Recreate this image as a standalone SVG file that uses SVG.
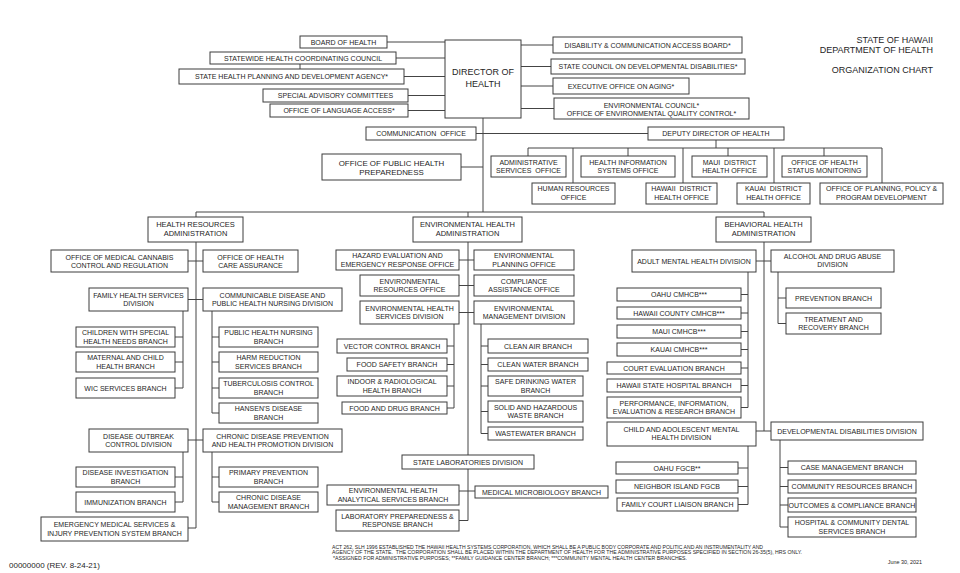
<svg xmlns="http://www.w3.org/2000/svg" width="960" height="573" viewBox="0 0 960 573">
<style>
.b{fill:#fff;stroke:#3c3c3c;stroke-width:1}
.t{font-family:"Liberation Sans",Arial,sans-serif;font-size:7px;fill:#1e1e1e;text-anchor:middle}
.h{font-size:7.5px}
.d{font-size:9px}
.p{font-size:7.9px}
.c{fill:none;stroke:#444;stroke-width:1}
.r{font-family:"Liberation Sans",Arial,sans-serif;font-size:9px;fill:#1e1e1e;text-anchor:end}
.f{font-family:"Liberation Sans",Arial,sans-serif;font-size:4.6px;fill:#1e1e1e}
</style>
<rect width="960" height="573" fill="#fff"/>
<g id="connectors" class="c">
<path d="M387 42H445 M396 58H445 M404 76.5H445 M408 95.5H445 M408 110.5H445 M300 64V69 M521 45H553 M521 66.5H551 M521 86H553 M521 108.5H554 M483 118V212 M476 133.5H648 M461 167H483 M716 140V148 M528 148H882 M528 148V156 M573 148V183 M628 148V156 M683 148V183 M728 148V156 M774 148V183 M824 148V156 M882 148V183 M196 212H764 M196 212V528 M468 212V455 M764 212V431"/>
<path d="M188 261H203 M188 299.5H203 M183 311V388 M175 337H183 M175 362H183 M175 388H183 M212 311V413 M212 337H219 M212 362H219 M212 388H219 M212 413H219 M188 440H203 M183 452V502 M175 477H183 M175 502H183 M212 452V502 M212 477H219 M212 502H219 M188 528H196"/>
<path d="M459 260H474 M459 285.5H474 M459 312.5H474 M454 324V408 M447 346H454 M447 364.5H454 M447 386H454 M447 408H454 M481 324V433.5 M481 346H488 M481 364.5H488 M481 386H488 M481 411.5H488 M481 433.5H488 M468 469V520.5 M459 491H475 M459 520.5H468"/>
<path d="M756 261H771 M748 272V407.5 M741 294.5H748 M741 313H748 M741 331.5H748 M741 349.5H748 M741 368H748 M741 385.5H748 M741 407.5H748 M778 272V323.5 M778 298H786 M778 323.5H786 M756 431H771 M748 446V504.5 M738 468H748 M738 486.5H748 M738 504.5H748 M780 440V527 M780 467.5H788 M780 486.5H788 M780 505H788 M780 527H788"/>
</g>
<g id="board"><rect class="b" x="300" y="36" width="87" height="12"/><text class="t" x="343.5" y="44.5">BOARD OF HEALTH</text></g>
<g id="shcc"><rect class="b" x="210" y="52" width="186" height="12"/><text class="t" x="303" y="60.5">STATEWIDE HEALTH COORDINATING COUNCIL</text></g>
<g id="shpda"><rect class="b" x="179" y="69" width="225" height="15"/><text class="t" x="291.5" y="79">STATE HEALTH PLANNING AND DEVELOPMENT AGENCY*</text></g>
<g id="sac"><rect class="b" x="263" y="89" width="145" height="13"/><text class="t" x="335.5" y="98">SPECIAL ADVISORY COMMITTEES</text></g>
<g id="ola"><rect class="b" x="270" y="104" width="138" height="13"/><text class="t" x="339" y="113">OFFICE OF LANGUAGE ACCESS*</text></g>
<g id="director"><rect class="b" x="445" y="40" width="76" height="78"/><text class="t d" x="483" y="75">DIRECTOR OF</text><text class="t d" x="483" y="87">HEALTH</text></g>
<g id="dcab"><rect class="b" x="553" y="37" width="189" height="16"/><text class="t" x="647.5" y="47.5">DISABILITY &amp; COMMUNICATION ACCESS BOARD*</text></g>
<g id="scdd"><rect class="b" x="551" y="59" width="194" height="15"/><text class="t" x="648" y="69">STATE COUNCIL ON DEVELOPMENTAL DISABILITIES*</text></g>
<g id="eoa"><rect class="b" x="553" y="78" width="136" height="16"/><text class="t" x="621" y="88.5">EXECUTIVE OFFICE ON AGING*</text></g>
<g id="envc"><rect class="b" x="554" y="98" width="195" height="21"/><text class="t" x="651.5" y="107.5">ENVIRONMENTAL COUNCIL*</text><text class="t" x="651.5" y="115.8">OFFICE OF ENVIRONMENTAL QUALITY CONTROL*</text></g>
<g id="title"><text class="r" x="933" y="43.2">STATE OF HAWAII</text><text class="r" x="933" y="52.5">DEPARTMENT OF HEALTH</text><text class="r" x="933" y="73.2">ORGANIZATION CHART</text></g>
<g id="comm"><rect class="b" x="366" y="127" width="110" height="13"/><text class="t" x="421" y="136" xml:space="preserve">COMMUNICATION  OFFICE</text></g>
<g id="deputy"><rect class="b" x="648" y="127" width="136" height="13"/><text class="t" x="716" y="136">DEPUTY DIRECTOR OF HEALTH</text></g>
<g id="ophp"><rect class="b" x="322" y="154" width="139" height="26"/><text class="t p" x="391.5" y="166">OFFICE OF PUBLIC HEALTH</text><text class="t p" x="391.5" y="174.5">PREPAREDNESS</text></g>
<g id="aso"><rect class="b" x="491" y="156" width="75" height="21"/><text class="t" x="528.5" y="164.5">ADMINISTRATIVE</text><text class="t" x="528.5" y="173" xml:space="preserve">SERVICES  OFFICE</text></g>
<g id="hiso"><rect class="b" x="581" y="156" width="94" height="21"/><text class="t" x="628" y="164.5">HEALTH INFORMATION</text><text class="t" x="628" y="173">SYSTEMS OFFICE</text></g>
<g id="mauidho"><rect class="b" x="692" y="156" width="75" height="21"/><text class="t" x="729.5" y="164.5" xml:space="preserve">MAUI  DISTRICT</text><text class="t" x="729.5" y="173">HEALTH OFFICE</text></g>
<g id="ohsm"><rect class="b" x="782" y="156" width="85" height="21"/><text class="t" x="824.5" y="164.5">OFFICE OF HEALTH</text><text class="t" x="824.5" y="173">STATUS MONITORING</text></g>
<g id="hro"><rect class="b" x="532" y="183" width="83" height="21"/><text class="t" x="573.5" y="191">HUMAN RESOURCES</text><text class="t" x="573.5" y="199.5">OFFICE</text></g>
<g id="hawaiidho"><rect class="b" x="646" y="183" width="71" height="21"/><text class="t" x="681.5" y="191" xml:space="preserve">HAWAII  DISTRICT</text><text class="t" x="681.5" y="199.5">HEALTH OFFICE</text></g>
<g id="kauaidho"><rect class="b" x="737" y="183" width="73" height="21"/><text class="t" x="773.5" y="191" xml:space="preserve">KAUAI  DISTRICT</text><text class="t" x="773.5" y="199.5">HEALTH OFFICE</text></g>
<g id="opppd"><rect class="b" x="820" y="183" width="123" height="21"/><text class="t" x="881.5" y="191">OFFICE OF PLANNING, POLICY &amp;</text><text class="t" x="881.5" y="199.5">PROGRAM DEVELOPMENT</text></g>
<g id="hra"><rect class="b" x="148" y="217" width="95" height="25"/><text class="t h" x="195.5" y="226.5">HEALTH RESOURCES</text><text class="t h" x="195.5" y="235.5">ADMINISTRATION</text></g>
<g id="omccr"><rect class="b" x="51" y="250" width="137" height="22"/><text class="t" x="119.5" y="259.5">OFFICE OF MEDICAL CANNABIS</text><text class="t" x="119.5" y="267.5">CONTROL AND REGULATION</text></g>
<g id="ohca"><rect class="b" x="203" y="250" width="95" height="22"/><text class="t" x="250.5" y="259.5">OFFICE OF HEALTH</text><text class="t" x="250.5" y="267.5">CARE ASSURANCE</text></g>
<g id="fhsd"><rect class="b" x="89" y="288" width="99" height="23"/><text class="t" x="138.5" y="297.8">FAMILY HEALTH SERVICES</text><text class="t" x="138.5" y="306">DIVISION</text></g>
<g id="cdphnd"><rect class="b" x="203" y="288" width="139" height="23"/><text class="t" x="272.5" y="297.8">COMMUNICABLE DISEASE AND</text><text class="t" x="272.5" y="306">PUBLIC HEALTH NURSING DIVISION</text></g>
<g id="cshnb"><rect class="b" x="76" y="327" width="99" height="20"/><text class="t" x="125.5" y="335.3">CHILDREN WITH SPECIAL</text><text class="t" x="125.5" y="343.5">HEALTH NEEDS BRANCH</text></g>
<g id="mchb"><rect class="b" x="76" y="352" width="99" height="20"/><text class="t" x="125.5" y="360.3">MATERNAL AND CHILD</text><text class="t" x="125.5" y="368.5">HEALTH BRANCH</text></g>
<g id="wic"><rect class="b" x="76" y="378" width="99" height="20"/><text class="t" x="125.5" y="390.5">WIC SERVICES BRANCH</text></g>
<g id="phnb"><rect class="b" x="219" y="327" width="99" height="20"/><text class="t" x="268.5" y="335.3">PUBLIC HEALTH NURSING</text><text class="t" x="268.5" y="343.5">BRANCH</text></g>
<g id="hrsb"><rect class="b" x="219" y="352" width="99" height="20"/><text class="t" x="268.5" y="360.3">HARM REDUCTION</text><text class="t" x="268.5" y="368.5">SERVICES BRANCH</text></g>
<g id="tbcb"><rect class="b" x="219" y="378" width="99" height="20"/><text class="t" x="268.5" y="386.3">TUBERCULOSIS CONTROL</text><text class="t" x="268.5" y="394.5">BRANCH</text></g>
<g id="hdb"><rect class="b" x="219" y="403" width="99" height="20"/><text class="t" x="268.5" y="411.3">HANSEN'S DISEASE</text><text class="t" x="268.5" y="419.5">BRANCH</text></g>
<g id="docd"><rect class="b" x="89" y="429" width="99" height="23"/><text class="t" x="138.5" y="438.8">DISEASE OUTBREAK</text><text class="t" x="138.5" y="447">CONTROL DIVISION</text></g>
<g id="cdphpd"><rect class="b" x="203" y="429" width="139" height="23"/><text class="t" x="272.5" y="438.8">CHRONIC DISEASE PREVENTION</text><text class="t" x="272.5" y="447">AND HEALTH PROMOTION DIVISION</text></g>
<g id="dib"><rect class="b" x="76" y="467" width="99" height="20"/><text class="t" x="125.5" y="475.3">DISEASE INVESTIGATION</text><text class="t" x="125.5" y="483.5">BRANCH</text></g>
<g id="immb"><rect class="b" x="76" y="492" width="99" height="20"/><text class="t" x="125.5" y="504.5">IMMUNIZATION BRANCH</text></g>
<g id="ppb"><rect class="b" x="219" y="467" width="99" height="20"/><text class="t" x="268.5" y="475.3">PRIMARY PREVENTION</text><text class="t" x="268.5" y="483.5">BRANCH</text></g>
<g id="cdmb"><rect class="b" x="219" y="492" width="99" height="20"/><text class="t" x="268.5" y="500.3">CHRONIC DISEASE</text><text class="t" x="268.5" y="508.5">MANAGEMENT BRANCH</text></g>
<g id="emsipsb"><rect class="b" x="41" y="517" width="147" height="24"/><text class="t" x="114.5" y="527.3">EMERGENCY MEDICAL SERVICES &amp;</text><text class="t" x="114.5" y="535.8">INJURY PREVENTION SYSTEM BRANCH</text></g>
<g id="eha"><rect class="b" x="413" y="217" width="109" height="25"/><text class="t h" x="467.5" y="226.5">ENVIRONMENTAL HEALTH</text><text class="t h" x="467.5" y="235.5">ADMINISTRATION</text></g>
<g id="heero"><rect class="b" x="336" y="250" width="123" height="20"/><text class="t" x="397.5" y="258.3">HAZARD EVALUATION AND</text><text class="t" x="397.5" y="266.5">EMERGENCY RESPONSE OFFICE</text></g>
<g id="epo"><rect class="b" x="474" y="250" width="100" height="20"/><text class="t" x="524" y="258.3">ENVIRONMENTAL</text><text class="t" x="524" y="266.5">PLANNING OFFICE</text></g>
<g id="ero"><rect class="b" x="360" y="275" width="99" height="21"/><text class="t" x="409.5" y="283.8">ENVIRONMENTAL</text><text class="t" x="409.5" y="292">RESOURCES OFFICE</text></g>
<g id="cao"><rect class="b" x="474" y="275" width="100" height="21"/><text class="t" x="524" y="283.8">COMPLIANCE</text><text class="t" x="524" y="292">ASSISTANCE OFFICE</text></g>
<g id="ehsd"><rect class="b" x="360" y="301" width="99" height="23"/><text class="t" x="409.5" y="310.8">ENVIRONMENTAL HEALTH</text><text class="t" x="409.5" y="319">SERVICES DIVISION</text></g>
<g id="emd"><rect class="b" x="474" y="301" width="100" height="23"/><text class="t" x="524" y="310.8">ENVIRONMENTAL</text><text class="t" x="524" y="319">MANAGEMENT DIVISION</text></g>
<g id="vcb"><rect class="b" x="337" y="339" width="110" height="14"/><text class="t" x="392" y="348.5">VECTOR CONTROL BRANCH</text></g>
<g id="fsb"><rect class="b" x="347" y="358" width="100" height="13"/><text class="t" x="397" y="367">FOOD SAFETY BRANCH</text></g>
<g id="irhb"><rect class="b" x="337" y="376" width="110" height="20"/><text class="t" x="392" y="384.3">INDOOR &amp; RADIOLOGICAL</text><text class="t" x="392" y="392.5">HEALTH BRANCH</text></g>
<g id="fdb"><rect class="b" x="342" y="402" width="105" height="12"/><text class="t" x="394.5" y="410.5">FOOD AND DRUG BRANCH</text></g>
<g id="cab"><rect class="b" x="488" y="339" width="100" height="14"/><text class="t" x="538" y="348.5">CLEAN AIR BRANCH</text></g>
<g id="cwb"><rect class="b" x="488" y="358" width="100" height="13"/><text class="t" x="538" y="367">CLEAN WATER BRANCH</text></g>
<g id="sdwb"><rect class="b" x="488" y="376" width="95" height="20"/><text class="t" x="535.5" y="384.3">SAFE DRINKING WATER</text><text class="t" x="535.5" y="392.5">BRANCH</text></g>
<g id="shwb"><rect class="b" x="488" y="401" width="95" height="21"/><text class="t" x="535.5" y="409.8">SOLID AND HAZARDOUS</text><text class="t" x="535.5" y="418">WASTE BRANCH</text></g>
<g id="wwb"><rect class="b" x="488" y="427" width="95" height="13"/><text class="t" x="535.5" y="436">WASTEWATER BRANCH</text></g>
<g id="sld"><rect class="b" x="402" y="455" width="132" height="14"/><text class="t" x="468" y="464.5">STATE LABORATORIES DIVISION</text></g>
<g id="ehasb"><rect class="b" x="327" y="485" width="132" height="20"/><text class="t" x="393" y="493.3">ENVIRONMENTAL HEALTH</text><text class="t" x="393" y="501.5">ANALYTICAL SERVICES BRANCH</text></g>
<g id="mmb"><rect class="b" x="475" y="486" width="133" height="12"/><text class="t" x="541.5" y="494.5">MEDICAL MICROBIOLOGY BRANCH</text></g>
<g id="lprb"><rect class="b" x="336" y="510" width="123" height="21"/><text class="t" x="397.5" y="518.8">LABORATORY PREPAREDNESS &amp;</text><text class="t" x="397.5" y="527">RESPONSE BRANCH</text></g>
<g id="bha"><rect class="b" x="716" y="217" width="95" height="25"/><text class="t h" x="763.5" y="226.5">BEHAVIORAL HEALTH</text><text class="t h" x="763.5" y="235.5">ADMINISTRATION</text></g>
<g id="amhd"><rect class="b" x="632" y="250" width="124" height="22"/><text class="t" x="694" y="263.5">ADULT MENTAL HEALTH DIVISION</text></g>
<g id="adad"><rect class="b" x="771" y="250" width="123" height="22"/><text class="t" x="832.5" y="258.5">ALCOHOL AND DRUG ABUSE</text><text class="t" x="832.5" y="266.7">DIVISION</text></g>
<g id="oahucmhcb"><rect class="b" x="617" y="288" width="124" height="13"/><text class="t" x="679" y="297">OAHU CMHCB***</text></g>
<g id="hccmhcb"><rect class="b" x="617" y="307" width="124" height="12"/><text class="t" x="679" y="315.5">HAWAII COUNTY CMHCB***</text></g>
<g id="mauicmhcb"><rect class="b" x="617" y="325" width="124" height="13"/><text class="t" x="679" y="334">MAUI CMHCB***</text></g>
<g id="kauaicmhcb"><rect class="b" x="617" y="343" width="124" height="13"/><text class="t" x="679" y="352">KAUAI CMHCB***</text></g>
<g id="ceb"><rect class="b" x="607" y="362" width="134" height="12"/><text class="t" x="674" y="370.5">COURT EVALUATION BRANCH</text></g>
<g id="hshb"><rect class="b" x="607" y="379" width="134" height="13"/><text class="t" x="674" y="388">HAWAII STATE HOSPITAL BRANCH</text></g>
<g id="pierb"><rect class="b" x="607" y="397" width="134" height="21"/><text class="t" x="674" y="405.8">PERFORMANCE, INFORMATION,</text><text class="t" x="674" y="414">EVALUATION &amp; RESEARCH BRANCH</text></g>
<g id="pb"><rect class="b" x="786" y="288" width="95" height="20"/><text class="t" x="833.5" y="300.5">PREVENTION BRANCH</text></g>
<g id="trb"><rect class="b" x="786" y="313" width="95" height="21"/><text class="t" x="833.5" y="321.8">TREATMENT AND</text><text class="t" x="833.5" y="330">RECOVERY BRANCH</text></g>
<g id="camhd"><rect class="b" x="607" y="422" width="149" height="24"/><text class="t" x="681.5" y="431.8">CHILD AND ADOLESCENT MENTAL</text><text class="t" x="681.5" y="440">HEALTH DIVISION</text></g>
<g id="ddd"><rect class="b" x="771" y="422" width="152" height="18"/><text class="t" x="847" y="433.5">DEVELOPMENTAL DISABILITIES DIVISION</text></g>
<g id="oahufgcb"><rect class="b" x="616" y="462" width="122" height="12"/><text class="t" x="677" y="470.5">OAHU FGCB**</text></g>
<g id="nifgcb"><rect class="b" x="616" y="480" width="122" height="13"/><text class="t" x="677" y="489">NEIGHBOR ISLAND FGCB</text></g>
<g id="fclb"><rect class="b" x="617" y="498" width="121" height="13"/><text class="t" x="677.5" y="507">FAMILY COURT LIAISON BRANCH</text></g>
<g id="cmb"><rect class="b" x="788" y="461" width="128" height="13"/><text class="t" x="852" y="470">CASE MANAGEMENT BRANCH</text></g>
<g id="crb"><rect class="b" x="788" y="480" width="128" height="13"/><text class="t" x="852" y="489">COMMUNITY RESOURCES BRANCH</text></g>
<g id="ocb"><rect class="b" x="788" y="498" width="128" height="14"/><text class="t" x="852" y="507.5">OUTCOMES &amp; COMPLIANCE BRANCH</text></g>
<g id="hcdsb"><rect class="b" x="788" y="517" width="128" height="20"/><text class="t" x="852" y="525.3">HOSPITAL &amp; COMMUNITY DENTAL</text><text class="t" x="852" y="533.5">SERVICES BRANCH</text></g>
<g id="notes">
<text class="f" x="332" y="548.5" textLength="431" lengthAdjust="spacingAndGlyphs">ACT 262, SLH 1996 ESTABLISHED THE HAWAII HEALTH SYSTEMS CORPORATION, WHICH SHALL BE A PUBLIC BODY CORPORATE AND POLITIC AND AN INSTRUMENTALITY AND</text>
<text class="f" x="332" y="554.3" textLength="470" lengthAdjust="spacingAndGlyphs" xml:space="preserve">AGENCY OF THE STATE.  THE CORPORATION SHALL BE PLACED WITHIN THE DEPARTMENT OF HEALTH FOR THE ADMINISTRATIVE PURPOSES SPECIFIED IN SECTION 26-35(5), HRS ONLY.</text>
<text class="f" x="333" y="560" textLength="354" lengthAdjust="spacingAndGlyphs">*ASSIGNED FOR ADMINISTRATIVE PURPOSES; **FAMILY GUIDANCE CENTER BRANCH; ***COMMUNITY MENTAL HEALTH CENTER BRANCHES.</text>
<text x="922" y="564" style="font-family:'Liberation Sans',Arial,sans-serif;font-size:5.4px;fill:#1e1e1e;text-anchor:end">June 30, 2021</text>
<text x="9" y="568" style="font-family:'Liberation Sans',Arial,sans-serif;font-size:8px;fill:#1e1e1e">00000000 (REV. 8-24-21)</text>
</g>
</svg>
